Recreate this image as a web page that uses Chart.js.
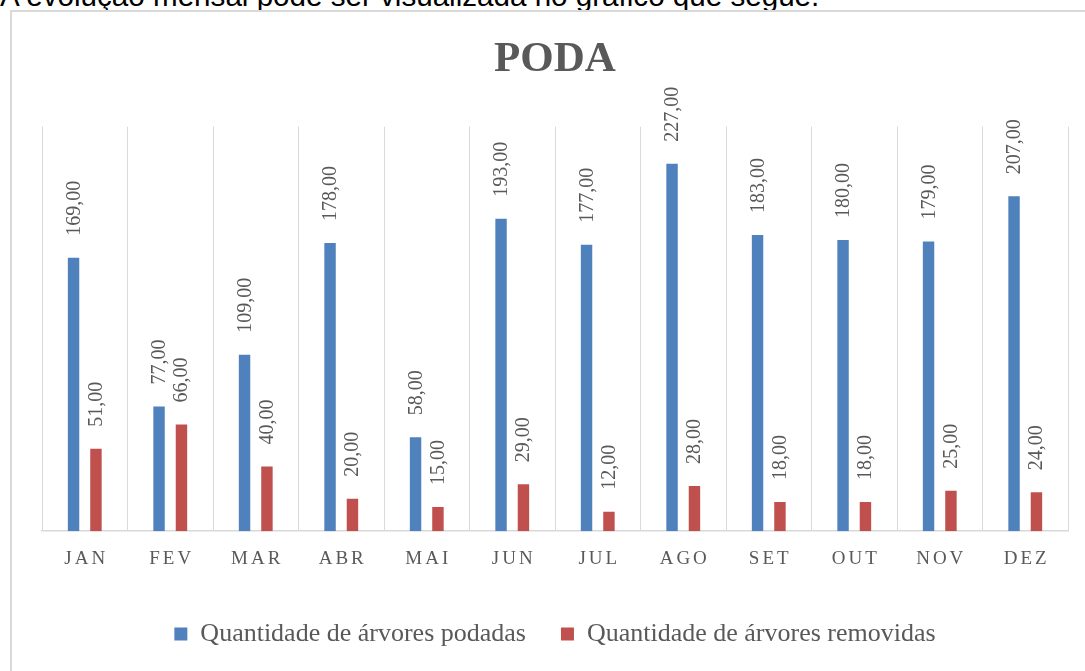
<!DOCTYPE html>
<html>
<head>
<meta charset="utf-8">
<script src="https://cdn.jsdelivr.net/npm/chart.js@4.4.0/dist/chart.umd.min.js"></script>
<style>
  html, body { margin: 0; padding: 0; background: #fff; overflow: hidden; width: 1085px; height: 671px; }
  #texto { position: absolute; left: 0; top: -19px; font-family: "Liberation Sans", Arial, sans-serif; font-size: 29.6px; line-height: 30px; color: #000; white-space: nowrap; }
  #caixa { position: absolute; left: 10px; top: 10px; width: 1088px; height: 690px; border: 2px solid #D9D9D9; }
</style>
</head>
<body>
<div id="texto">A evolução mensal pode ser visualizada no gráfico que segue.</div>
<div id="caixa"><canvas id="grafico" width="1088" height="690"></canvas></div>
<script>
// Dados do gráfico
const titulo = "PODA";
const meses = ["JAN", "FEV", "MAR", "ABR", "MAI", "JUN", "JUL", "AGO", "SET", "OUT", "NOV", "DEZ"];
const podadas = [169, 77, 109, 178, 58, 193, 177, 227, 183, 180, 179, 207];
const removidas = [51, 66, 40, 20, 15, 29, 12, 28, 18, 18, 25, 24];
const nomeSerie1 = "Quantidade de árvores podadas";
const nomeSerie2 = "Quantidade de árvores removidas";
const eixoMin = 0;
const eixoMax = 250;

const corTexto = "#595959";
const corGrade = "#D9D9D9";
const fonte = "'Liberation Serif', serif";

// rótulos de valor girados acima das barras
const rotulos = {
  id: "rotulos",
  afterDatasetsDraw(chart) {
    const ctx = chart.ctx;
    ctx.save();
    ctx.font = "20px " + fonte;
    ctx.fillStyle = corTexto;
    ctx.textAlign = "left";
    ctx.textBaseline = "alphabetic";
    chart.data.datasets.forEach((ds, i) => {
      chart.getDatasetMeta(i).data.forEach((barra, j) => {
        ctx.save();
        ctx.translate(barra.x + 6, barra.y - 22);
        ctx.rotate(-Math.PI / 2);
        ctx.fillText(ds.data[j].toFixed(2).replace(".", ","), 0, 0);
        ctx.restore();
      });
    });
    ctx.restore();
  },
};

// espaçamento entre letras nos meses
const espacamento = {
  id: "espacamento",
  afterLayout(chart) {
    const eixo = chart.scales.x;
    if (eixo._comEspaco) return;
    const original = eixo.drawLabels.bind(eixo);
    eixo.drawLabels = function (area) {
      chart.ctx.save();
      chart.ctx.letterSpacing = "3px";
      chart.ctx.translate(1.5, 0);
      original(area);
      chart.ctx.restore();
    };
    eixo._comEspaco = true;
  },
};

const grafico = new Chart(document.getElementById("grafico"), {
  type: "bar",
  data: {
    labels: meses,
    datasets: [
      { label: nomeSerie1, data: podadas, backgroundColor: "#4F81BD", borderWidth: 0, categoryPercentage: 0.524, barPercentage: 0.51 },
      { label: nomeSerie2, data: removidas, backgroundColor: "#C0504D", borderWidth: 0, categoryPercentage: 0.524, barPercentage: 0.51 },
    ],
  },
  options: {
    responsive: false,
    animation: false,
    layout: { padding: { left: 30, right: 32, top: 0, bottom: 45 } },
    plugins: {
      title: {
        display: true,
        text: titulo,
        color: corTexto,
        font: { family: fonte, size: 43, weight: "bold" },
        padding: { top: 22, bottom: 41 },
      },
      legend: {
        position: "bottom",
        labels: {
          boxWidth: 13,
          boxHeight: 13,
          color: corTexto,
          font: { family: fonte, size: 26 },
          padding: 35,
        },
      },
      tooltip: { enabled: false },
    },
    scales: {
      x: {
        grid: { color: corGrade, lineWidth: 1, drawTicks: false, offset: true },
        border: { color: corGrade, width: 1.5 },
        ticks: { color: corTexto, font: { family: fonte, size: 19 }, padding: 16 },
      },
      y: { display: false, min: eixoMin, max: eixoMax },
    },
  },
  plugins: [rotulos, espacamento],
});
</script>
</body>
</html>
